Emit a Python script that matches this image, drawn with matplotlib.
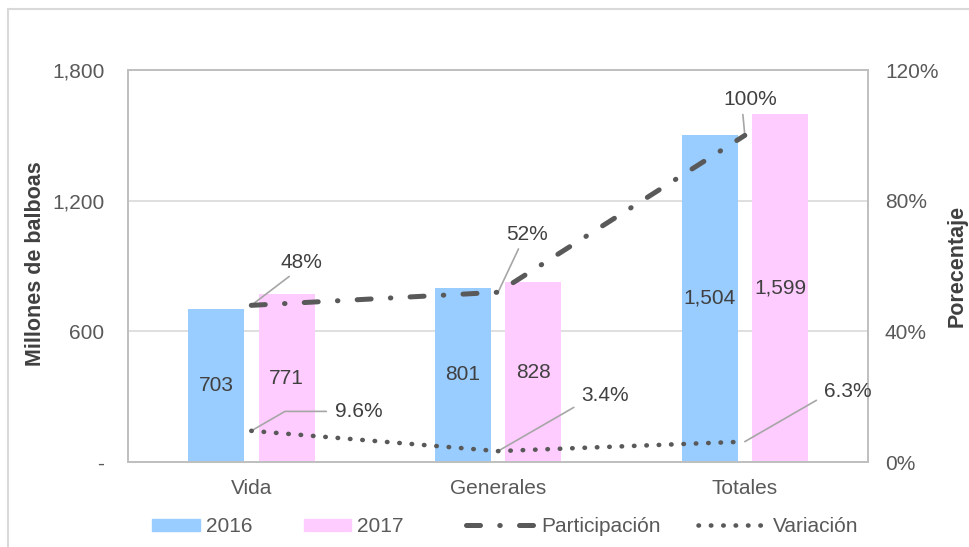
import numpy as np
import matplotlib.pyplot as plt
from matplotlib.lines import Line2D
from matplotlib.patches import Patch

plt.rcParams['font.family'] = ['Liberation Sans', 'DejaVu Sans']

# Datos
categorias = ['Vida', 'Generales', 'Totales']
valores_2016 = [703, 801, 1504]
valores_2017 = [771, 828, 1599]
participacion = [48, 52, 100]
variacion = [9.6, 3.4, 6.3]

gris = '#595959'
texto = '#404040'
azul = '#99CCFF'
rosa = '#FFCCFF'
fs = 15
estilo_part = dict(color=gris, lw=3.6, dashes=(2.8, 3.85, 0.1, 3.85), dash_capstyle='round')
estilo_var = dict(color=gris, lw=3.3, linestyle=(0, (0.1, 2.6)), dash_capstyle='round')

fig = plt.figure(figsize=(9.69, 5.47), dpi=100)
ax = fig.add_axes([0.132, 0.155, 0.764, 0.717])
ax2 = ax.twinx()

# borde del gráfico
fig.add_artist(Line2D([8 / 969, 8 / 969], [0, 1 - 9 / 547], color='#D9D9D9', lw=1.5))
fig.add_artist(Line2D([8 / 969, 1], [1 - 9 / 547, 1 - 9 / 547], color='#D9D9D9', lw=1.5))

x = np.arange(len(categorias))
ancho = 0.227
b1 = ax.bar(x - 0.143, valores_2016, ancho, color=azul, zorder=2)
b2 = ax.bar(x + 0.143, valores_2017, ancho, color=rosa, zorder=2)

for barras in (b1, b2):
    for b in barras:
        v = b.get_height()
        ax.text(b.get_x() + b.get_width() / 2, v / 2, f'{v:,.0f}',
                ha='center', va='center', fontsize=fs, color=texto, zorder=5)

ax.set_xlim(-0.5, 2.5)
ax.set_ylim(0, 1800)
ax.set_yticks([0, 600, 1200, 1800])
ax.set_yticklabels(['-', '600', '1,200', '1,800'])
ax.set_xticks(x)
ax.set_xticklabels(categorias)
ax.grid(axis='y', color='#D9D9D9', lw=1.2, zorder=0)
ax.set_axisbelow(True)
ax.tick_params(length=0, labelsize=fs, colors=gris, pad=17)
ax.tick_params(axis='x', pad=12)
ax.set_ylabel('Millones de balboas', fontsize=15.5, fontweight='bold', color=texto)
ax.yaxis.set_label_coords(-0.111, 0.506)

ax2.set_ylim(0, 120)
ax2.set_yticks([0, 40, 80, 120])
ax2.set_yticklabels([f'{t}%' for t in [0, 40, 80, 120]])
ax2.tick_params(length=0, labelsize=fs, colors=gris, pad=12)
ax2.set_ylabel('Porecentaje', fontsize=15.5, fontweight='bold', color=texto)
ax2.yaxis.set_label_coords(1.106, 0.5)

for a in (ax, ax2):
    for s in a.spines.values():
        s.set_color('#BFBFBF')
        s.set_linewidth(1.2)

ax2.plot(x, participacion, zorder=4, **estilo_part)
ax2.plot(x, variacion, zorder=4, **estilo_var)

# etiquetas con líneas guía (desplazamientos en puntos)
offs_part = [(36, 24), (21, 35), (4, 19)]
for xi, v, (dx, dy) in zip(x, participacion, offs_part):
    ax2.annotate(f'{v:.0f}%', (xi, v), xytext=(dx, dy), textcoords='offset points',
                 ha='center', va='bottom', fontsize=fs, color=texto,
                 arrowprops=dict(arrowstyle='-', color='#A6A6A6', lw=1.2,
                                 shrinkA=2, shrinkB=0, relpos=(0.35, 0.0)))

offs_var = [(60, 14), (60, 40), (57, 36)]
for xi, v, (dx, dy) in zip(x, variacion, offs_var):
    ax2.annotate(f'{v:.1f}%', (xi, v), xytext=(dx, dy), textcoords='offset points',
                 ha='left', va='center', fontsize=fs, color=texto,
                 arrowprops=dict(arrowstyle='-', color='#A6A6A6', lw=1.2,
                                 shrinkA=4, shrinkB=0, relpos=(0.0, 0.5),
                                 connectionstyle='angle,angleA=0,angleB=30,rad=0'))

# leyenda en dos partes para imitar el espaciado original
y_ley = 1 - 527 / 547
fig.legend([Patch(color=azul), Patch(color=rosa)], ['2016', '2017'],
           loc='center left', bbox_to_anchor=(152 / 969, y_ley), ncol=2,
           frameon=False, fontsize=fs, labelcolor=gris, handlelength=2.3,
           handleheight=0.5, handletextpad=0.29, columnspacing=2.45,
           borderpad=0, borderaxespad=0)
lineas = [Line2D([], [], **estilo_part), Line2D([], [], **estilo_var)]
fig.legend(lineas, ['Participación', 'Variación'],
           loc='center left', bbox_to_anchor=(466 / 969, y_ley), ncol=2,
           frameon=False, fontsize=fs, labelcolor=gris, handlelength=3.31,
           handletextpad=0.29, columnspacing=1.78, borderpad=0, borderaxespad=0)

fig.savefig('out.png', dpi=100)
